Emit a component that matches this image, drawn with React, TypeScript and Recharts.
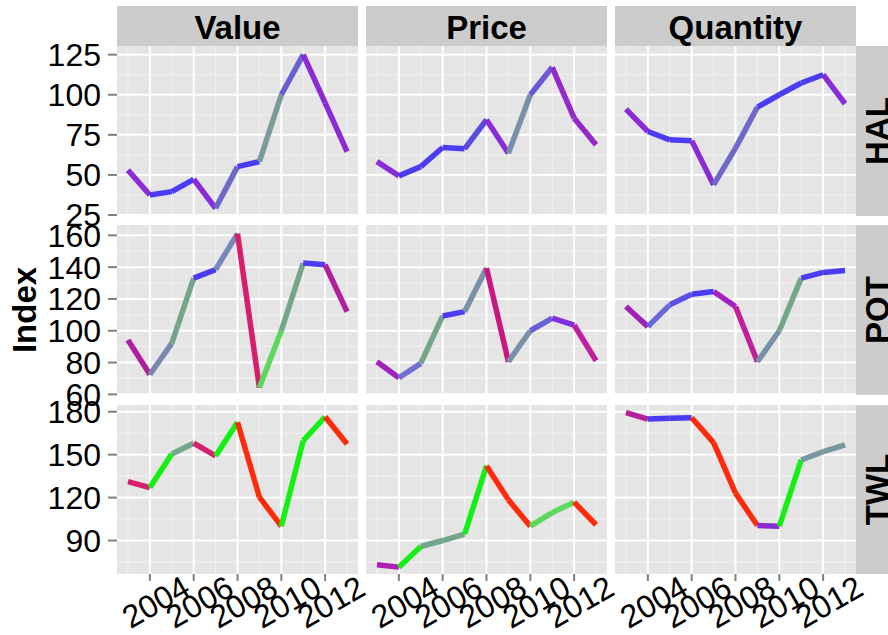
import React from 'react';
import { LineChart, Line, XAxis, YAxis, CartesianGrid } from 'recharts';

// ---- data (index, 2010 = 100) ----
const years = [2003, 2004, 2005, 2006, 2007, 2008, 2009, 2010, 2011, 2012, 2013];
const fleets = ['HAL', 'POT', 'TWL'];
const measures = ['Value', 'Price', 'Quantity'];

const halValue = [53, 37.5, 39.6, 47.3, 29.2, 55.2, 58.3, 100, 125, 95, 64.6];
const halPrice = [58.3, 49.4, 55.2, 67.1, 66.3, 84.4, 63.5, 100, 117.1, 85.4, 68.8];
const halQuantity = [91, 77.1, 71.9, 71.3, 43.8, 66.7, 92.3, 100, 107.3, 112.5, 94.4];
const potValue = [94.2, 72.5, 92.1, 133.1, 138.4, 161.1, 64.3, 100, 142.6, 141.5, 112];
const potPrice = [80.5, 70.4, 79.5, 109.3, 112, 139.4, 80.5, 100, 107.9, 103.6, 81.1];
const potQuantity = [115.2, 102.6, 116.3, 123, 124.7, 115.2, 80.5, 100, 133.1, 136.7, 137.9];
const twlValue = [131.2, 127, 150.5, 158, 149.1, 172.6, 120.3, 100, 159.8, 176.5, 157.5];
const twlPrice = [73, 71.4, 85.8, 90, 94.5, 142.1, 118.4, 100, 109.5, 116.8, 101];
const twlQuantity = [179.3, 174.9, 175.4, 175.8, 158.4, 123.1, 100.5, 100, 146.3, 152.1, 156.8];

// per-axis ticks
const xMajor = [2004, 2006, 2008, 2010, 2012];
const xMinor = [2003, 2005, 2007, 2009, 2011, 2013];
const yMajor = [[25, 50, 75, 100, 125], [60, 80, 100, 120, 140, 160], [90, 120, 150, 180]];
const yMinor = [[37.5, 62.5, 87.5, 112.5], [70, 90, 110, 130, 150], [75, 105, 135, 165]];
const yDomains = [[24.4, 130.4], [59.6, 166.5], [66.6, 184.7]];

// segment colours (one per year-to-year step)
const PURPLE = '#8A2BD6';
const BLUE = '#4B3BF2';
const SLATE = '#7068C8';
const STEEL = '#7890A8';
const SAGE = '#72A68A';
const CRIMSON = '#D61E6C';
const MAGENTA = '#B0209E';
const GREEN = '#14F014';
const LIGHT_GREEN = '#5CD85C';
const RED = '#FF2A0A';

const halValueColors = [PURPLE, BLUE, BLUE, PURPLE, SLATE, BLUE, '#7A9C98', '#6A60D0', PURPLE, PURPLE];
const halPriceColors = [PURPLE, BLUE, BLUE, BLUE, '#5A4AE0', PURPLE, STEEL, '#6A5AD8', '#9628C8', '#9628C8'];
const halQuantityColors = [PURPLE, BLUE, BLUE, PURPLE, SLATE, SLATE, BLUE, BLUE, BLUE, PURPLE];
const potValueColors = [MAGENTA, '#7888B0', SAGE, BLUE, '#7888B8', CRIMSON, LIGHT_GREEN, SAGE, BLUE, MAGENTA];
const potPriceColors = ['#A020B8', '#7070D0', SAGE, BLUE, STEEL, '#C81880', STEEL, '#6860D8', '#8030E0', '#C020A0'];
const potQuantityColors = ['#A020B8', '#6868D8', '#5850E8', BLUE, '#A020C0', '#C0209A', STEEL, SAGE, BLUE, BLUE];
const twlValueColors = [CRIMSON, GREEN, SAGE, CRIMSON, GREEN, RED, RED, GREEN, GREEN, RED];
const twlPriceColors = ['#B020B0', GREEN, SAGE, SAGE, GREEN, RED, RED, LIGHT_GREEN, LIGHT_GREEN, RED];
const twlQuantityColors = ['#B8209A', BLUE, BLUE, RED, RED, RED, PURPLE, GREEN, '#7898A0', '#7898A0'];

const panelValues = [
    [halValue, halPrice, halQuantity],
    [potValue, potPrice, potQuantity],
    [twlValue, twlPrice, twlQuantity],
];
const panelColors = [
    [halValueColors, halPriceColors, halQuantityColors],
    [potValueColors, potPriceColors, potQuantityColors],
    [twlValueColors, twlPriceColors, twlQuantityColors],
];

// ---- layout ----
const FONT = '"Liberation Sans", Arial, Helvetica, sans-serif';
const PANEL_X = [117, 366, 615];
const PANEL_Y = [46, 225, 405];
const PANEL_W = 241;
const PANEL_H = [170, 170, 169];
const Y_AXIS_W = 117;
const X_AXIS_H = 61;
const PAD = 16;
const TICK_LINE = { stroke: '#7F7F7F', strokeWidth: 2 };

// one row per year, one column per segment so each step can take its own colour
function segmentRows(values: number[]) {
    return years.map((year, i) => {
        const row: Record<string, number | null> = { year };
        for (let s = 0; s < values.length - 1; s++) {
            row['s' + s] = i === s || i === s + 1 ? values[i] : null;
        }
        return row;
    });
}

// eslint-disable-next-line @typescript-eslint/no-explicit-any
function XTick(props: any) {
    const { x, y, payload } = props;
    return (
        <text
            transform={`translate(${x + 6},${y + 19}) rotate(-30)`}
            textAnchor="middle"
            dominantBaseline="central"
            fontSize={32}
            fontFamily={FONT}
            fill="#000"
        >
            {payload.value}
        </text>
    );
}

function Panel({ r, c }: { r: number; c: number }) {
    const showY = c === 0;
    const showX = r === fleets.length - 1;
    const left = showY ? Y_AXIS_W : 0;
    const bottom = showX ? X_AXIS_H : PAD;
    const width = left + PANEL_W + PAD * 2;
    const height = PAD + PANEL_H[r] + bottom;
    const colors = panelColors[r][c];

    return (
        <div style={{ position: 'absolute', left: PANEL_X[c] - left, top: PANEL_Y[r] - PAD }}>
            <LineChart
                width={width}
                height={height}
                data={segmentRows(panelValues[r][c])}
                margin={{ top: PAD, right: PAD * 2, bottom: showX ? 0 : PAD, left: 0 }}
            >
                <XAxis
                    dataKey="year"
                    type="number"
                    domain={[2002.5, 2013.5]}
                    allowDataOverflow
                    ticks={xMajor}
                    interval={0}
                    hide={!showX}
                    height={X_AXIS_H}
                    tickSize={7}
                    tickMargin={2}
                    axisLine={false}
                    tickLine={TICK_LINE}
                    tick={<XTick />}
                />
                <YAxis
                    type="number"
                    domain={yDomains[r]}
                    allowDataOverflow
                    ticks={yMajor[r]}
                    interval={0}
                    hide={!showY}
                    width={Y_AXIS_W}
                    tickSize={9}
                    tickMargin={7}
                    axisLine={false}
                    tickLine={TICK_LINE}
                    tick={{ fill: '#000', fontSize: 32, fontFamily: FONT }}
                />
                <CartesianGrid
                    fill="#E5E5E5"
                    stroke="#F2F2F2"
                    strokeWidth={1}
                    verticalValues={xMinor}
                    horizontalValues={yMinor[r]}
                />
                <CartesianGrid
                    stroke="#FFFFFF"
                    strokeWidth={2}
                    verticalValues={xMajor}
                    horizontalValues={yMajor[r]}
                />
                {colors.map((col, s) => (
                    <Line
                        key={s}
                        dataKey={'s' + s}
                        stroke={col}
                        strokeWidth={5.5}
                        strokeLinecap="butt"
                        dot={false}
                        activeDot={false}
                        connectNulls={false}
                        isAnimationActive={false}
                    />
                ))}
            </LineChart>
        </div>
    );
}

export default function App() {
    return (
        <div
            style={{
                position: 'absolute',
                left: 0,
                top: 0,
                width: 888,
                height: 635,
                overflow: 'hidden',
                background: '#fff',
                fontFamily: FONT,
            }}
        >
            <svg width={888} height={635} style={{ position: 'absolute', left: 0, top: 0 }}>
                {measures.map((m, c) => (
                    <g key={m}>
                        <rect x={PANEL_X[c]} y={6} width={PANEL_W} height={40} fill="#CCCCCC" />
                        <text
                            x={PANEL_X[c] + PANEL_W / 2}
                            y={27}
                            textAnchor="middle"
                            dominantBaseline="central"
                            fontSize={33}
                            fontWeight="bold"
                            fontFamily={FONT}
                        >
                            {m}
                        </text>
                    </g>
                ))}
                {fleets.map((f, r) => (
                    <g key={f}>
                        <rect x={856} y={PANEL_Y[r]} width={40} height={PANEL_H[r]} fill="#CCCCCC" />
                        <text
                            transform={`translate(877,${PANEL_Y[r] + PANEL_H[r] / 2}) rotate(-90)`}
                            textAnchor="middle"
                            dominantBaseline="central"
                            fontSize={33}
                            fontWeight="bold"
                            fontFamily={FONT}
                        >
                            {f}
                        </text>
                    </g>
                ))}
                <text
                    transform="translate(24,310) rotate(-90)"
                    textAnchor="middle"
                    dominantBaseline="central"
                    fontSize={33}
                    fontWeight="bold"
                    fontFamily={FONT}
                >
                    Index
                </text>
            </svg>
            {fleets.map((f, r) => measures.map((m, c) => <Panel key={f + m} r={r} c={c} />))}
        </div>
    );
}
